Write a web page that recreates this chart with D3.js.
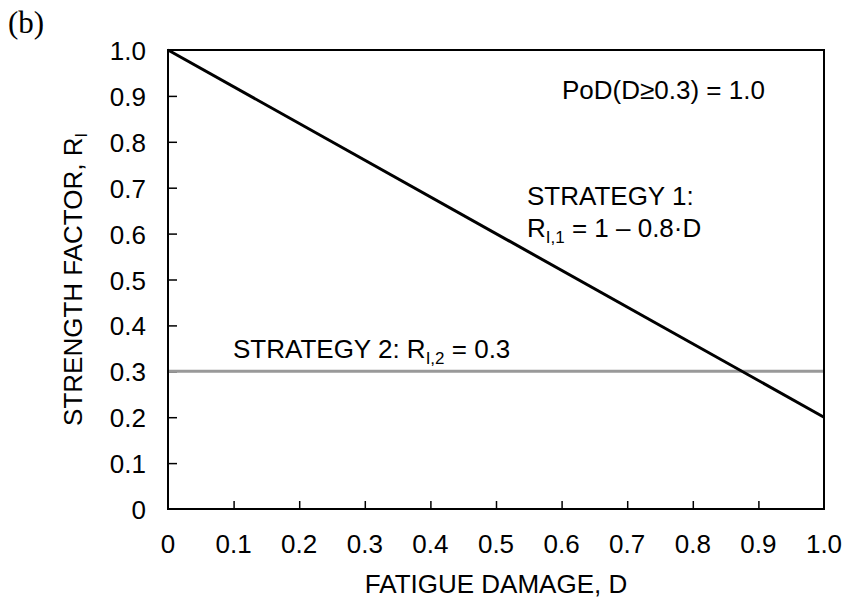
<!DOCTYPE html>
<html>
<head>
<meta charset="utf-8">
<script src="https://cdn.jsdelivr.net/npm/d3@7"></script>
<style>
  body { margin: 0; background: #fff; }
  svg { display: block; }
  text { font-family: "Liberation Sans", Arial, sans-serif; fill: #000; }
</style>
</head>
<body>
<div id="chart"></div>
<script>
// data
const damage = [0, 1.0];
const strategy1 = [1.0, 0.2];
const strategy2 = [0.3, 0.3];
const xTickValues = [0, 0.1, 0.2, 0.3, 0.4, 0.5, 0.6, 0.7, 0.8, 0.9, 1.0];
const xTickLabels = ["0", "0.1", "0.2", "0.3", "0.4", "0.5", "0.6", "0.7", "0.8", "0.9", "1.0"];
const yTickValues = [0, 0.1, 0.2, 0.3, 0.4, 0.5, 0.6, 0.7, 0.8, 0.9, 1.0];
const yTickLabels = ["0", "0.1", "0.2", "0.3", "0.4", "0.5", "0.6", "0.7", "0.8", "0.9", "1.0"];

const width = 848, height = 601;
const plotLeft = 168, plotRight = 824, plotTop = 50, plotBottom = 509;

const svg = d3.select("#chart").append("svg")
  .attr("width", width)
  .attr("height", height);

const x = d3.scaleLinear().domain([0, 1]).range([plotLeft, plotRight]);
const y = d3.scaleLinear().domain([0, 1]).range([plotBottom, plotTop]);

// panel label
svg.append("text")
  .attr("x", 8)
  .attr("y", 33)
  .style("font-family", "'Liberation Serif', 'Times New Roman', serif")
  .style("font-size", "31px")
  .text("(b)");

// inward ticks
const inner = xTickValues.filter(v => v > 0 && v < 1);
svg.append("g")
  .attr("transform", "translate(0," + plotBottom + ")")
  .call(d3.axisBottom(x).tickValues(inner).tickSize(-8).tickFormat(""))
  .call(g => g.select(".domain").remove())
  .selectAll("line").attr("stroke", "#000").attr("stroke-width", 1.5);

svg.append("g")
  .attr("transform", "translate(" + plotLeft + ",0)")
  .call(d3.axisLeft(y).tickValues(yTickValues.filter(v => v > 0 && v < 1)).tickSize(-9).tickFormat(""))
  .call(g => g.select(".domain").remove())
  .selectAll("line").attr("stroke", "#000").attr("stroke-width", 1.5);

// tick labels
svg.append("g").selectAll("text")
  .data(xTickValues)
  .enter()
  .append("text")
  .attr("x", d => x(d))
  .attr("y", plotBottom + 44)
  .attr("text-anchor", "middle")
  .style("font-size", "26px")
  .text((d, i) => xTickLabels[i]);

svg.append("g").selectAll("text")
  .data(yTickValues)
  .enter()
  .append("text")
  .attr("x", plotLeft - 22)
  .attr("y", d => y(d) + 10)
  .attr("text-anchor", "end")
  .style("font-size", "26px")
  .text((d, i) => yTickLabels[i]);

// lines
const line = d3.line()
  .x(d => x(d[0]))
  .y(d => y(d[1]));

svg.append("path")
  .attr("d", line(damage.map((d, i) => [d, strategy2[i]])))
  .attr("fill", "none")
  .attr("stroke", "#999999")
  .attr("stroke-width", 3);

svg.append("path")
  .attr("d", line(damage.map((d, i) => [d, strategy1[i]])))
  .attr("fill", "none")
  .attr("stroke", "#000")
  .attr("stroke-width", 3);

// frame
svg.append("rect")
  .attr("x", x(0))
  .attr("y", y(1))
  .attr("width", x(1) - x(0))
  .attr("height", y(0) - y(1))
  .attr("fill", "none")
  .attr("stroke", "#000")
  .attr("stroke-width", 2);

// axis titles
svg.append("text")
  .attr("x", (plotLeft + plotRight) / 2)
  .attr("y", 593)
  .attr("text-anchor", "middle")
  .style("font-size", "26px")
  .text("FATIGUE DAMAGE, D");

const yt = svg.append("text")
  .attr("transform", "translate(82," + (plotTop + plotBottom) / 2 + ") rotate(-90)")
  .attr("text-anchor", "middle")
  .style("font-size", "26px");
yt.append("tspan").text("STRENGTH FACTOR, R");
yt.append("tspan").attr("dy", 5).style("font-size", "16px").text("I");

// annotations
svg.append("text")
  .attr("x", 562)
  .attr("y", 99)
  .style("font-size", "26px")
  .text("PoD(D\u22650.3) = 1.0");

svg.append("text")
  .attr("x", 527)
  .attr("y", 205)
  .style("font-size", "26px")
  .text("STRATEGY 1:");

const s1 = svg.append("text")
  .attr("x", 527)
  .attr("y", 237)
  .style("font-size", "26px");
s1.append("tspan").text("R");
s1.append("tspan").attr("dy", 6).style("font-size", "17px").text("I,1");
s1.append("tspan").attr("dy", -6).text(" = 1 \u2013 0.8\u00b7D");

const s2 = svg.append("text")
  .attr("x", 233)
  .attr("y", 358)
  .style("font-size", "26px");
s2.append("tspan").text("STRATEGY 2: R");
s2.append("tspan").attr("dy", 6).style("font-size", "17px").text("I,2");
s2.append("tspan").attr("dy", -6).text(" = 0.3");
</script>
</body>
</html>
